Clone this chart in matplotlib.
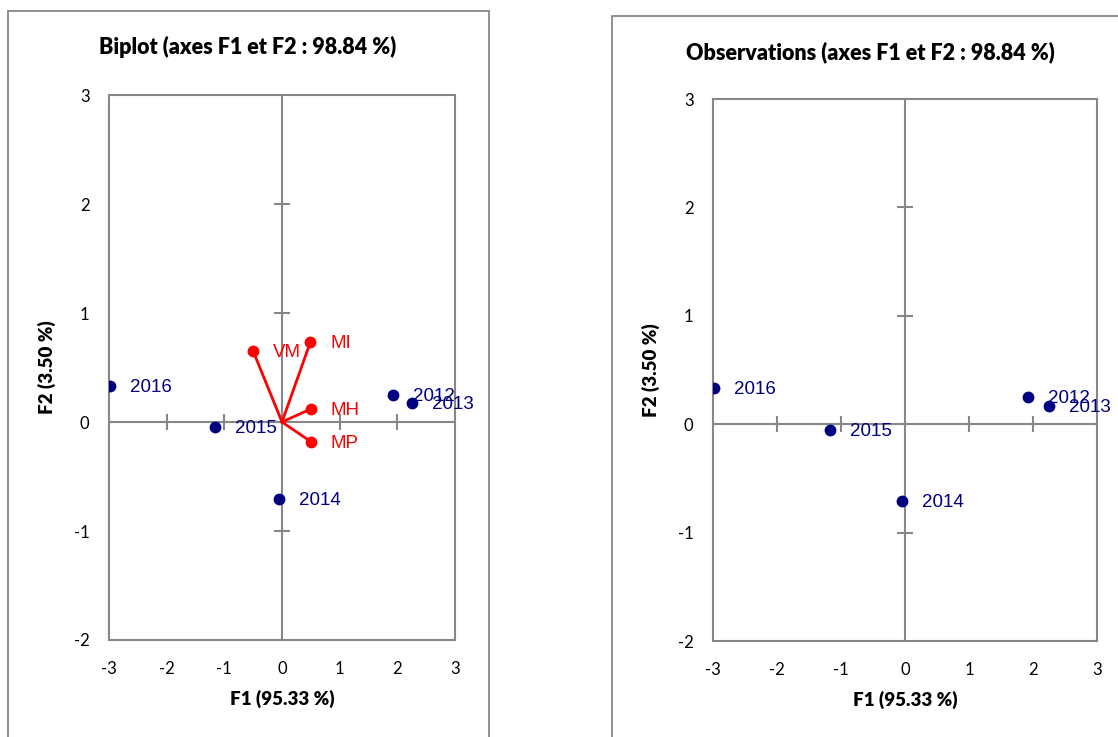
import numpy as np
import matplotlib
matplotlib.use("Agg")
import matplotlib.pyplot as plt
from matplotlib.patches import Rectangle

plt.rcParams["axes.unicode_minus"] = False

# observations (years) on F1 / F2
years = ["2012", "2013", "2014", "2015", "2016"]
obs_f1 = [1.92, 2.25, -0.05, -1.17, -2.98]
obs_f2 = [0.25, 0.17, -0.71, -0.05, 0.33]

# variables (vectors on the biplot)
variables = ["VM", "MI", "MH", "MP"]
var_f1 = [-0.50, 0.49, 0.50, 0.50]
var_f2 = [0.65, 0.73, 0.12, -0.18]

x_ticks = [-3, -2, -1, 0, 1, 2, 3]
y_ticks = [-2, -1, 0, 1, 2, 3]

title_left = "Biplot (axes F1 et F2 : 98.84 %)"
title_right = "Observations (axes F1 et F2 : 98.84 %)"
xlabel = "F1 (95.33 %)"
ylabel = "F2 (3.50 %)"

grey = "#878787"
navy = "#000080"
red = "#FF0000"
ui_font = ["Lato", "DejaVu Sans"]
lbl_font = ["Liberation Sans", "DejaVu Sans"]

fig = plt.figure(figsize=(11.18, 7.37), dpi=100)

# chart area frames (cut off at the bottom like the screenshot)
fig.patches.append(Rectangle((8 / 1118, -0.1), 481 / 1118, 1.1 - 11 / 737,
                             transform=fig.transFigure, fill=False,
                             edgecolor=grey, linewidth=1.3))
fig.patches.append(Rectangle((612 / 1118, -0.1), 0.5, 1.1 - 16 / 737,
                             transform=fig.transFigure, fill=False,
                             edgecolor=grey, linewidth=1.3))


def setup(ax, title, title_y, title_x):
    ax.set_xlim(-3, 3)
    ax.set_ylim(-2, 3)
    ax.set_xticks(x_ticks)
    ax.set_yticks(y_ticks)
    ax.tick_params(length=0, labelsize=12, colors="black")
    ax.tick_params(axis="x", pad=15)
    ax.tick_params(axis="y", pad=14)
    for lab in ax.get_xticklabels() + ax.get_yticklabels():
        lab.set_family(ui_font)
    for sp in ax.spines.values():
        sp.set_color(grey)
        sp.set_linewidth(1.5)
    # central axes with cross ticks
    ax.axhline(0, color=grey, lw=1.5, zorder=1)
    ax.axvline(0, color=grey, lw=1.5, zorder=1)
    ax.plot([t for t in x_ticks if t not in (-3, 0, 3)],
            [0] * 4, ls="none", marker="|", ms=11, mew=1.5, color=grey, zorder=1)
    ax.plot([0] * 3, [t for t in y_ticks if t not in (-2, 0, 3)],
            ls="none", marker="_", ms=11, mew=1.5, color=grey, zorder=1)
    ax.set_xlabel(xlabel, fontsize=13.5, fontweight="heavy", family=ui_font, labelpad=9)
    ax.set_ylabel(ylabel, fontsize=13.5, fontweight="heavy", family=ui_font, labelpad=13)
    fig.text(title_x, title_y, title, ha="center", va="center",
             fontsize=15.5, fontweight="heavy", family=ui_font)


def draw_obs(ax):
    ax.plot(obs_f1, obs_f2, ls="none", marker="o", ms=7.5, color=navy, zorder=3)
    for name, x, y in zip(years, obs_f1, obs_f2):
        ax.annotate(name, (x, y), xytext=(14.5, -1), textcoords="offset points",
                    va="center", ha="left", fontsize=13.5, color=navy,
                    family=lbl_font, zorder=4)


# left: biplot
axl = fig.add_axes([109 / 1118, 1 - 640 / 737, 346 / 1118, 545 / 737])
setup(axl, title_left, 1 - 47 / 737, 248 / 1118)
for x, y in zip(var_f1, var_f2):
    axl.plot([0, x], [0, y], color=red, lw=2, zorder=2)
axl.plot(var_f1, var_f2, ls="none", marker="o", ms=7.5, color=red, zorder=3)
for name, x, y in zip(variables, var_f1, var_f2):
    axl.annotate(name, (x, y), xytext=(14.5, -1), textcoords="offset points",
                 va="center", ha="left", fontsize=13.5, color=red,
                 family=lbl_font, zorder=4)
draw_obs(axl)

# right: observations only
axr = fig.add_axes([713 / 1118, 1 - 641 / 737, 384 / 1118, 542 / 737])
setup(axr, title_right, 1 - 52 / 737, 870 / 1118)
draw_obs(axr)

fig.savefig("out.png", dpi=100)
